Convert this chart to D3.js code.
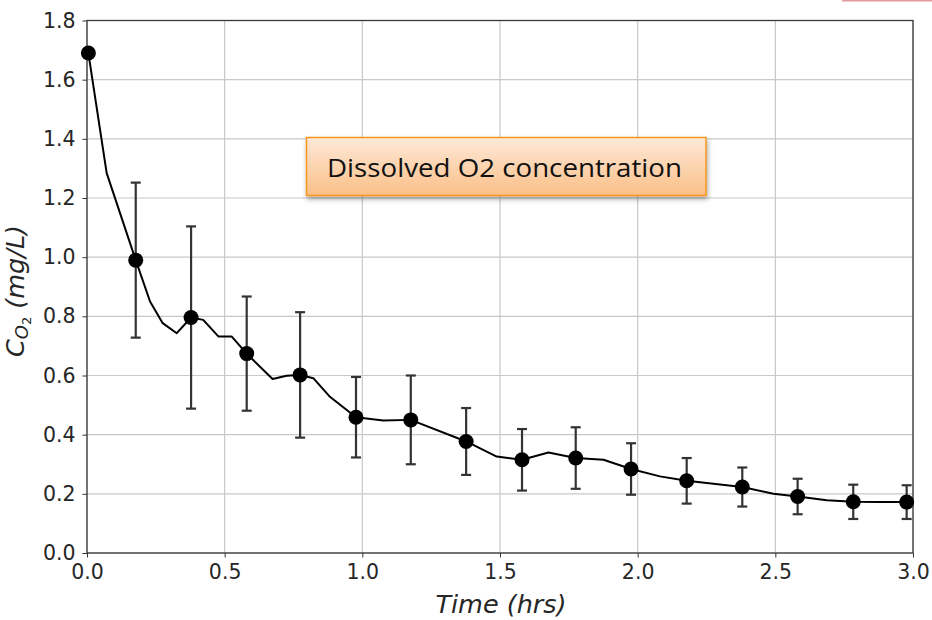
<!DOCTYPE html>
<html>
<head>
<meta charset="utf-8">
<script src="https://cdn.jsdelivr.net/npm/d3@7"></script>
<style>
  body { margin: 0; background: #fff; }
  svg { display: block; }
  .tick text { font-family: "DejaVu Sans", sans-serif; font-size: 20.5px; fill: #262626; }
  .tick line { stroke: #333; }
  .domain { display: none; }
</style>
</head>
<body>
<div id="chart"></div>
<script>
// measured points (every ~0.2 hrs) with error bars
const markerTime = [0.005, 0.177, 0.378, 0.58, 0.774, 0.977, 1.176, 1.377, 1.58, 1.775, 1.976, 2.178, 2.38, 2.581, 2.783, 2.977];
const markerConc = [1.69, 0.99, 0.796, 0.674, 0.602, 0.459, 0.45, 0.377, 0.315, 0.321, 0.284, 0.244, 0.223, 0.191, 0.173, 0.172];
const markerErr = [0, 0.262, 0.308, 0.193, 0.212, 0.136, 0.15, 0.113, 0.104, 0.104, 0.087, 0.077, 0.066, 0.06, 0.058, 0.057];

// the black line between the points
const lineTime = [0.005, 0.0715, 0.177, 0.229, 0.275, 0.326, 0.378, 0.422, 0.477, 0.525, 0.58, 0.674, 0.725, 0.774, 0.822, 0.88, 0.977, 1.076, 1.176, 1.377, 1.488, 1.58, 1.676, 1.775, 1.876, 1.976, 2.081, 2.178, 2.275, 2.38, 2.493, 2.581, 2.687, 2.783, 2.88, 2.977];
const lineConc = [1.69, 1.284, 0.99, 0.85, 0.777, 0.743, 0.796, 0.788, 0.732, 0.732, 0.674, 0.588, 0.599, 0.602, 0.591, 0.53, 0.459, 0.448, 0.45, 0.377, 0.326, 0.315, 0.34, 0.321, 0.315, 0.284, 0.259, 0.244, 0.234, 0.223, 0.2, 0.191, 0.178, 0.173, 0.172, 0.172];

const xTicks = [0, 0.5, 1.0, 1.5, 2.0, 2.5, 3.0];
const yTicks = [0, 0.2, 0.4, 0.6, 0.8, 1.0, 1.2, 1.4, 1.6, 1.8];

const width = 932, height = 620;
const margin = {top: 20.5, right: 19, bottom: 67, left: 87};
const w = width - margin.left - margin.right,
    h = height - margin.top - margin.bottom;

let svg = d3.select("#chart").append("svg")
    .attr("width", width)
    .attr("height", height);

let defs = svg.append("defs");
let grad = defs.append("linearGradient")
    .attr("id", "boxFill")
    .attr("x1", 0).attr("y1", 0).attr("x2", 0).attr("y2", 1);
grad.append("stop").attr("offset", "0%").attr("stop-color", "#fde9da");
grad.append("stop").attr("offset", "100%").attr("stop-color", "#fbbf86");

let shadow = defs.append("filter").attr("id", "shadow")
    .attr("x", "-10%").attr("y", "-30%").attr("width", "120%").attr("height", "170%");
shadow.append("feDropShadow")
    .attr("dx", 1).attr("dy", 3).attr("stdDeviation", 2.5)
    .attr("flood-color", "#000").attr("flood-opacity", 0.35);

let x = d3.scaleLinear().domain([0, 3]).range([0, w]);
let y = d3.scaleLinear().domain([0, 1.8]).range([h, 0]);

let g = svg.append("g").attr("transform", `translate(${margin.left},${margin.top})`);

// grid
g.append("g")
    .selectAll("line")
    .data(xTicks)
    .enter().append("line")
    .attr("x1", d => x(d)).attr("x2", d => x(d))
    .attr("y1", 0).attr("y2", h)
    .attr("stroke", "#c8c8c8").attr("stroke-width", 1.2);

g.append("g")
    .selectAll("line")
    .data(yTicks)
    .enter().append("line")
    .attr("x1", 0).attr("x2", w)
    .attr("y1", d => y(d)).attr("y2", d => y(d))
    .attr("stroke", "#c8c8c8").attr("stroke-width", 1.2);

// axes
g.append("g")
    .attr("transform", `translate(0,${h})`)
    .call(d3.axisBottom(x).tickValues(xTicks).tickFormat(d3.format(".1f")).tickSize(4.5).tickPadding(7));

g.append("g")
    .call(d3.axisLeft(y).tickValues(yTicks).tickFormat(d3.format(".1f")).tickSize(4.5).tickPadding(7));

// frame
g.append("rect")
    .attr("width", w).attr("height", h)
    .attr("fill", "none")
    .attr("stroke", "#3a3a3a").attr("stroke-width", 1.3);

let plot = g.append("g");

// line
let linePts = lineTime.map((t, i) => [t, lineConc[i]]);
plot.append("path")
    .datum(linePts)
    .attr("fill", "none")
    .attr("stroke", "#000")
    .attr("stroke-width", 2)
    .attr("stroke-linejoin", "round")
    .attr("d", d3.line().x(d => x(d[0])).y(d => y(d[1])));

// error bars
let pts = markerTime.map((t, i) => ({t: t, c: markerConc[i], e: markerErr[i]}));
let errs = plot.append("g")
    .selectAll("g")
    .data(pts.filter(d => d.e > 0))
    .enter().append("g")
    .attr("stroke", "#333")
    .attr("stroke-width", 2.2);

errs.append("line")
    .attr("x1", d => x(d.t)).attr("x2", d => x(d.t))
    .attr("y1", d => y(d.c + d.e)).attr("y2", d => y(d.c - d.e));
errs.append("line")
    .attr("x1", d => x(d.t) - 5).attr("x2", d => x(d.t) + 5)
    .attr("y1", d => y(d.c + d.e)).attr("y2", d => y(d.c + d.e));
errs.append("line")
    .attr("x1", d => x(d.t) - 5).attr("x2", d => x(d.t) + 5)
    .attr("y1", d => y(d.c - d.e)).attr("y2", d => y(d.c - d.e));

// markers
plot.append("g")
    .selectAll("circle")
    .data(pts)
    .enter().append("circle")
    .attr("cx", d => x(d.t))
    .attr("cy", d => y(d.c))
    .attr("r", 7.5)
    .attr("fill", "#000");

// axis labels
svg.append("text")
    .attr("x", margin.left + w / 2 + 1)
    .attr("y", 613)
    .attr("text-anchor", "middle")
    .attr("font-family", "DejaVu Sans, sans-serif")
    .attr("font-style", "italic")
    .attr("font-size", 25.5)
    .attr("fill", "#262626")
    .text("Time (hrs)");

let yl = svg.append("text")
    .attr("transform", "translate(24,291) rotate(-90)")
    .attr("text-anchor", "middle")
    .attr("font-family", "DejaVu Sans, sans-serif")
    .attr("font-style", "italic")
    .attr("font-size", 25.5)
    .attr("fill", "#262626");
yl.append("tspan").text("C");
yl.append("tspan").attr("font-size", 18).attr("dy", 4).text("O");
yl.append("tspan").attr("font-size", 13).attr("font-style", "normal").attr("dy", 3).text("2");
yl.append("tspan").attr("dy", -7).text(" (mg/L)");

// annotation box
let box = svg.append("g");
box.append("rect")
    .attr("x", 306.5).attr("y", 137.5)
    .attr("width", 399.5).attr("height", 58)
    .attr("fill", "url(#boxFill)")
    .attr("stroke", "#f7961e")
    .attr("stroke-width", 1.5)
    .attr("filter", "url(#shadow)");
box.append("text")
    .attr("x", 327).attr("y", 177)
    .attr("font-family", "Open Sans, sans-serif")
    .attr("font-size", 25)
    .attr("textLength", 355)
    .attr("lengthAdjust", "spacingAndGlyphs")
    .attr("fill", "#111")
    .text("Dissolved O2 concentration");

// little pink strip in the top right corner of the screenshot
svg.append("rect")
    .attr("x", 842).attr("y", 0)
    .attr("width", 90).attr("height", 1.5)
    .attr("fill", "#e49a9a");
</script>
</body>
</html>
